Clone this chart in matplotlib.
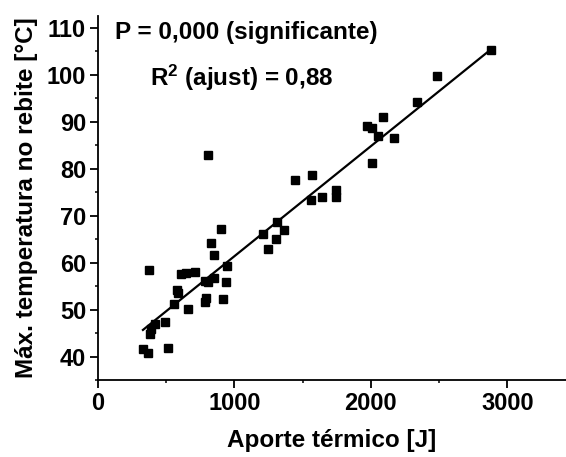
import numpy as np
import matplotlib.pyplot as plt
from matplotlib.ticker import MultipleLocator

# data
heat_input = [327, 369, 374, 381, 390, 420, 491, 513, 561, 578, 585, 609, 642, 662,
              710, 786, 786, 793, 806, 805, 825, 849, 849, 901, 916, 940, 945,
              1212, 1244, 1307, 1315, 1360, 1447, 1558, 1569, 1642, 1743, 1743,
              1975, 2007, 2012, 2054, 2089, 2171, 2337, 2487, 2878]
max_temp = [41.6, 40.7, 58.4, 44.8, 46.0, 46.9, 47.3, 41.8, 51.3, 54.3, 53.6, 57.6, 57.9, 50.1,
            58.0, 56.1, 51.6, 52.5, 55.8, 83.0, 64.3, 56.8, 61.6, 67.1, 52.2, 56.0, 59.4,
            66.1, 62.9, 65.1, 68.6, 67.0, 77.7, 73.4, 78.7, 74.0, 75.4, 73.9,
            89.0, 88.7, 81.2, 86.9, 91.0, 86.5, 94.1, 99.8, 105.3]
fit_x = [330, 2880]
fit_y = [45.7, 105.4]

plt.rcParams['font.family'] = ['Liberation Sans', 'DejaVu Sans']
plt.rcParams['font.weight'] = 'bold'
plt.rcParams['mathtext.fontset'] = 'custom'
plt.rcParams['mathtext.bf'] = 'Liberation Sans:bold'

fig = plt.figure(figsize=(5.66, 4.57), dpi=100)
ax = fig.add_axes([0.173, 0.168, 0.827, 0.797])

ax.plot(heat_input, max_temp, 's', color='black', markersize=5.8, zorder=3)
ax.plot(fit_x, fit_y, '-', color='black', linewidth=1.6, zorder=2)

ax.set_xlim(0, 3430)
ax.set_ylim(35, 112.5)
ax.xaxis.set_major_locator(MultipleLocator(1000))
ax.xaxis.set_minor_locator(MultipleLocator(500))
ax.yaxis.set_major_locator(MultipleLocator(10))
ax.yaxis.set_minor_locator(MultipleLocator(5))
ax.set_yticks(np.arange(40, 111, 10))

ax.spines['top'].set_visible(False)
ax.spines['right'].set_visible(False)
for s in ['left', 'bottom']:
    ax.spines[s].set_linewidth(1.3)
ax.tick_params(which='major', direction='out', length=5.5, width=1.3, labelsize=17, pad=3)
ax.tick_params(which='minor', direction='out', length=2.5, width=1.1)

ax.set_xlabel('Aporte térmico [J]', fontsize=17.5, fontweight='bold', labelpad=10)
ax.set_ylabel('Máx. temperatura no rebite [°C]', fontsize=17.5, fontweight='bold', labelpad=6)

ax.text(125, 108.9, 'P = 0,000 (significante)', fontsize=17.5, fontweight='bold', va='center')
ax.text(381, 99.3, 'R$\\mathbf{^2}$ (ajust) = 0,88', fontsize=17.5, fontweight='bold', va='center')

plt.savefig('out.png', dpi=100)
